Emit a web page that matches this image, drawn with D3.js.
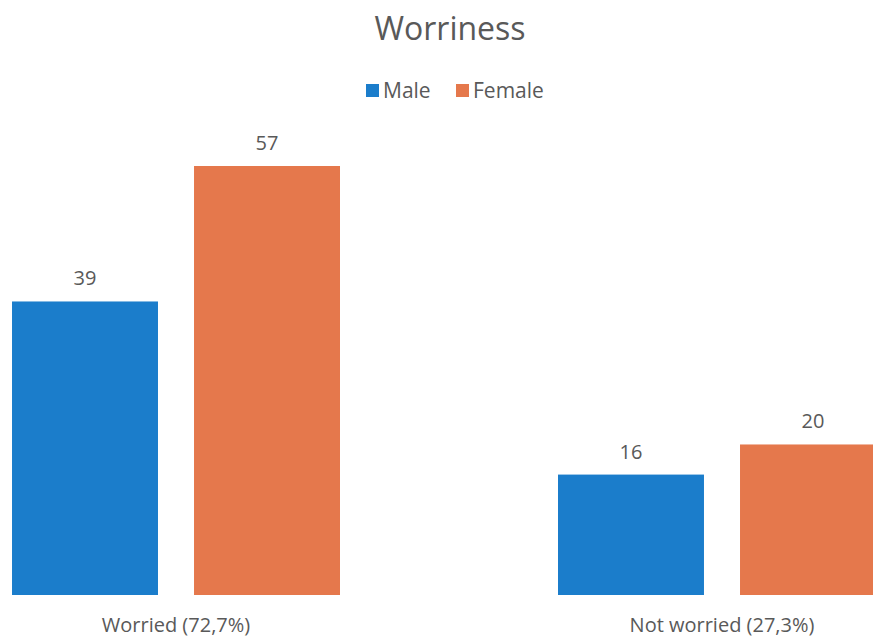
<!DOCTYPE html>
<html>
<head>
  <title>Worriness</title>
  <script src="https://d3js.org/d3.v7.min.js"></script>
  <style>
    body { margin: 0; background: #fff; }
    text { font-family: "Open Sans", "Noto Sans", sans-serif; fill: #595959; }
  </style>
</head>
<body>
  <div id="chart"></div>
  <script>
    const categories = ["Worried (72,7%)", "Not worried (27,3%)"];
    const seriesNames = ["Male", "Female"];
    const maleValues = [39, 16];
    const femaleValues = [57, 20];
    const colors = ["#1b7dcb", "#e5784c"];

    const width = 873, height = 639;
    const baseline = 595;

    const rows = categories.map((c, i) => ({
      cat: c,
      vals: [
        { key: "Male", value: maleValues[i] },
        { key: "Female", value: femaleValues[i] }
      ]
    }));

    const svg = d3.select("#chart").append("svg")
      .attr("width", width)
      .attr("height", height);

    // the original is cropped on the right, so the outer band runs past the edge
    const x0 = d3.scaleBand()
      .domain(categories)
      .range([-206, 1104])
      .padding(0.3993);

    const x1 = d3.scaleBand()
      .domain(seriesNames)
      .range([0, x0.bandwidth()])
      .paddingInner(0.198)
      .paddingOuter(0);

    const color = d3.scaleOrdinal().domain(seriesNames).range(colors);

    const y = d3.scaleLinear()
      .domain([0, 57])
      .range([baseline, 166]);

    const groups = svg.selectAll(".grp")
      .data(rows)
      .enter().append("g")
      .attr("class", "grp")
      .attr("transform", d => `translate(${x0(d.cat)},0)`);

    groups.selectAll("rect")
      .data(d => d.vals)
      .enter().append("rect")
      .attr("x", d => x1(d.key))
      .attr("y", d => y(d.value))
      .attr("width", x1.bandwidth())
      .attr("height", d => baseline - y(d.value))
      .attr("fill", d => color(d.key));

    groups.selectAll(".val")
      .data(d => d.vals)
      .enter().append("text")
      .attr("class", "val")
      .attr("x", d => x1(d.key) + x1.bandwidth() / 2)
      .attr("y", d => y(d.value) - 16)
      .attr("text-anchor", "middle")
      .style("font-size", "20px")
      .text(d => d.value);

    // category labels
    svg.selectAll(".cat")
      .data(categories)
      .enter().append("text")
      .attr("class", "cat")
      .attr("x", d => x0(d) + x0.bandwidth() / 2)
      .attr("y", 632)
      .attr("text-anchor", "middle")
      .style("font-size", "20px")
      .text(d => d);

    // title
    svg.append("text")
      .attr("x", 450)
      .attr("y", 40)
      .attr("text-anchor", "middle")
      .style("font-size", "32px")
      .text("Worriness");

    // legend
    const legend = svg.append("g").attr("transform", "translate(366,82)");
    const legItems = legend.selectAll("g")
      .data(seriesNames)
      .enter().append("g")
      .attr("transform", (d, i) => `translate(${i * 90},0)`);
    legItems.append("rect")
      .attr("width", 13)
      .attr("height", 13)
      .attr("y", 2)
      .attr("fill", d => color(d));
    legItems.append("text")
      .attr("x", 17)
      .attr("y", 16)
      .style("font-size", "21px")
      .text(d => d);
  </script>
</body>
</html>
